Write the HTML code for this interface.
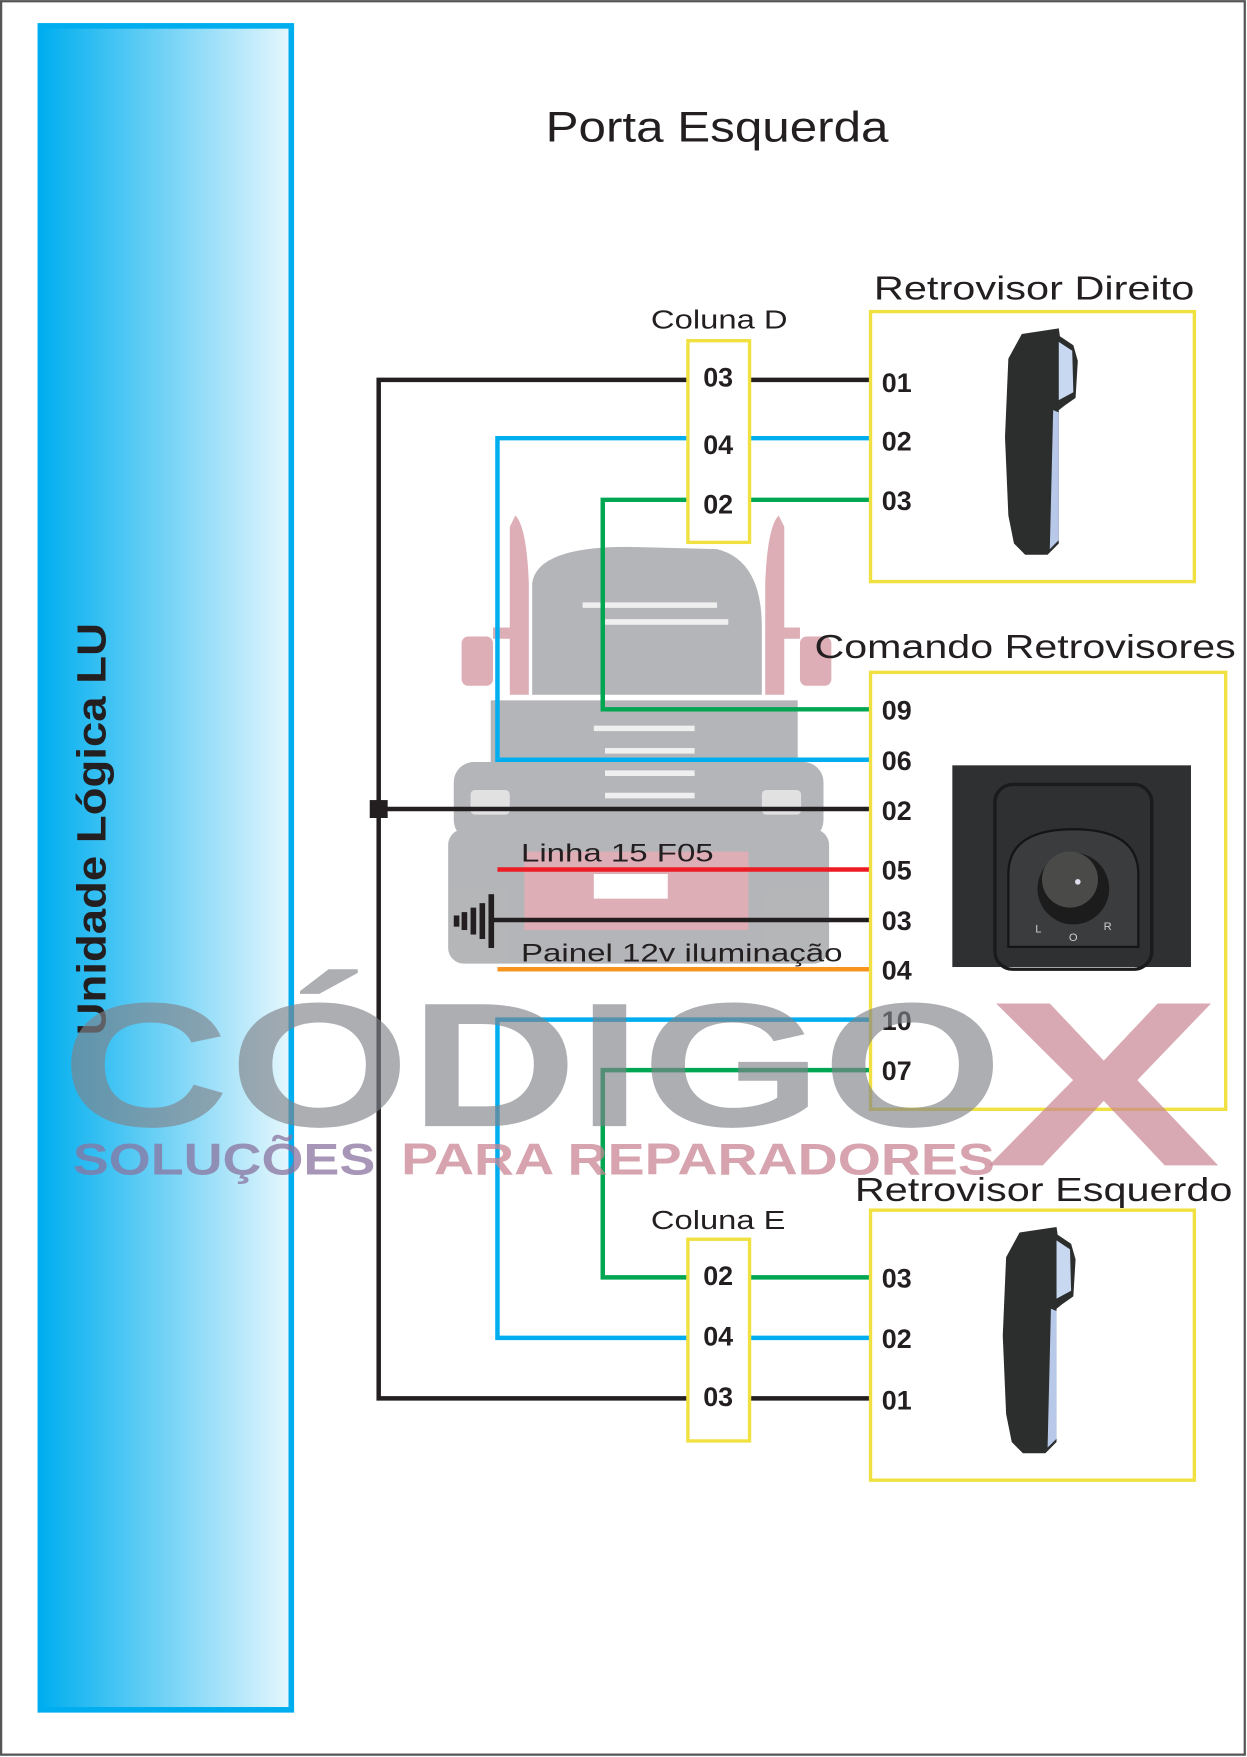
<!DOCTYPE html>
<html><head><meta charset="utf-8"><style>
html,body{margin:0;padding:0;background:#fff}
svg{display:block}
text{font-family:"Liberation Sans",sans-serif}
.pin{font-size:24px;font-weight:bold;fill:#231f20}
.t{fill:#231f20}
</style></head><body>
<svg width="1247" height="1757" viewBox="0 0 1113 1568" xmlns="http://www.w3.org/2000/svg">
<defs>
<linearGradient id="bg" x1="0" x2="1" y1="0" y2="0">
<stop offset="0" stop-color="#00aeef"/><stop offset="1" stop-color="#e6f7fd"/>
</linearGradient>
<g id="mirror">
<path d="M912,298 L945,293 L946,300 L958,308 L962,322 L960,355 L950,362 L945,366 L945,485 L935,495 L915,495 L905,485 L900,460 L897,390 L900,320 Z" fill="#2b2e2c"/>
<path d="M945,305 L957,313 L958,350 L945,357 Z" fill="#c8d8f0"/>
<path d="M940,366 L945,368 L945,482 L937,490 Z" fill="#b8c8e8"/>
</g>
</defs>
<rect x="0" y="0" width="1113" height="1568" fill="#fff"/>
<rect x="1" y="1" width="1110" height="1565" fill="none" stroke="#555" stroke-width="2"/>
<rect x="36" y="23" width="224" height="1503" fill="url(#bg)" stroke="#00aeef" stroke-width="5"/>

<!-- truck watermark -->
<g opacity="0.85">
<path d="M460,460 Q470,470 472,520 L472,620 L455,620 L455,470 Z" fill="#d9a0aa"/>
<path d="M695,460 Q685,470 683,520 L683,620 L700,620 L700,470 Z" fill="#d9a0aa"/>
<rect x="412" y="568" width="28" height="44" rx="6" fill="#d9a0aa"/>
<rect x="714" y="568" width="28" height="44" rx="6" fill="#d9a0aa"/>
<path d="M470,560 L440,560 L440,570 L470,570 Z M685,560 L714,560 L714,570 L685,570Z" fill="#d9a0aa"/>
<path d="M475,520 Q480,488 560,488 L640,490 Q680,500 680,560 L680,620 L475,620 Z" fill="#a7a9ac"/>
<path d="M438,625 L712,625 L712,680 L690,680 L690,720 L460,720 L460,680 L438,680 Z" fill="#a7a9ac"/>
<rect x="405" y="680" width="330" height="70" rx="18" fill="#a7a9ac"/>
<rect x="400" y="740" width="340" height="120" rx="14" fill="#a7a9ac"/>
<rect x="468" y="760" width="200" height="70" fill="#d9a0aa"/>
<rect x="530" y="780" width="66" height="22" fill="#fff"/>
<rect x="420" y="705" width="35" height="22" rx="4" fill="#fff" opacity="0.6"/>
<rect x="680" y="705" width="35" height="22" rx="4" fill="#fff" opacity="0.6"/>
<g stroke="#fff" stroke-width="5" opacity="0.8">
<line x1="520" y1="540" x2="640" y2="540"/><line x1="540" y1="555" x2="650" y2="555"/>
<line x1="530" y1="650" x2="620" y2="650"/><line x1="540" y1="670" x2="620" y2="670"/><line x1="540" y1="690" x2="620" y2="690"/><line x1="540" y1="710" x2="620" y2="710"/>
</g>
</g>

<text x="487" y="126" font-size="38" class="t" textLength="306" lengthAdjust="spacingAndGlyphs">Porta Esquerda</text>

<!-- wires -->
<g fill="none" stroke-width="4">
<polyline points="776,339 338,339 338,1248 776,1248" stroke="#231f20"/>
<line x1="338" y1="722" x2="776" y2="722" stroke="#231f20"/>
<polyline points="776,391 444,391 444,678 776,678" stroke="#00aeef"/>
<polyline points="776,446 538,446 538,633 776,633" stroke="#00a651"/>
<line x1="444" y1="776" x2="776" y2="776" stroke="#ed1c24"/>
<line x1="440" y1="821" x2="776" y2="821" stroke="#231f20"/>
<line x1="444" y1="865" x2="776" y2="865" stroke="#f7941d"/>
<polyline points="776,910 444,910 444,1194 776,1194" stroke="#00aeef"/>
<polyline points="776,955 538,955 538,1140 776,1140" stroke="#00a651"/>
</g>
<rect x="330" y="714" width="16" height="16" fill="#231f20"/>
<!-- ground -->
<g fill="#231f20">
<rect x="436" y="798" width="5" height="48"/>
<rect x="428" y="806" width="5" height="32"/>
<rect x="420" y="810" width="5" height="24"/>
<rect x="412" y="814" width="5" height="16"/>
<rect x="405" y="817" width="5" height="10"/>
</g>
<text x="465" y="769" font-size="22" class="t" textLength="172" lengthAdjust="spacingAndGlyphs">Linha 15 F05</text>
<text x="465" y="858" font-size="22" class="t" textLength="287" lengthAdjust="spacingAndGlyphs">Painel 12v iluminação</text>

<!-- Coluna D -->
<text x="581" y="293" font-size="23" class="t" textLength="122" lengthAdjust="spacingAndGlyphs">Coluna D</text>
<rect x="614" y="304" width="55" height="180" fill="#fff" stroke="#f0e040" stroke-width="3"/>
<text x="641" y="345" text-anchor="middle" class="pin">03</text>
<text x="641" y="405" text-anchor="middle" class="pin">04</text>
<text x="641" y="458" text-anchor="middle" class="pin">02</text>

<!-- Coluna E -->
<text x="581" y="1097" font-size="23" class="t" textLength="120" lengthAdjust="spacingAndGlyphs">Coluna E</text>
<rect x="614" y="1106" width="55" height="180" fill="#fff" stroke="#f0e040" stroke-width="3"/>
<text x="641" y="1147" text-anchor="middle" class="pin">02</text>
<text x="641" y="1201" text-anchor="middle" class="pin">04</text>
<text x="641" y="1255" text-anchor="middle" class="pin">03</text>

<!-- Retrovisor Direito -->
<text x="780" y="267" font-size="30" class="t" textLength="286" lengthAdjust="spacingAndGlyphs">Retrovisor Direito</text>
<rect x="777" y="278" width="289" height="241" fill="none" stroke="#f0e040" stroke-width="3"/>
<text x="787" y="350" class="pin">01</text>
<text x="787" y="402" class="pin">02</text>
<text x="787" y="455" class="pin">03</text>
<use href="#mirror"/>

<!-- Comando -->
<text x="727" y="587" font-size="30" class="t" textLength="376" lengthAdjust="spacingAndGlyphs">Comando Retrovisores</text>
<rect x="777" y="600" width="317" height="390" fill="none" stroke="#f0e040" stroke-width="3"/>
<text x="787" y="642" class="pin">09</text>
<text x="787" y="687" class="pin">06</text>
<text x="787" y="732" class="pin">02</text>
<text x="787" y="785" class="pin">05</text>
<text x="787" y="830" class="pin">03</text>
<text x="787" y="874" class="pin">04</text>
<text x="787" y="919" class="pin">10</text>
<text x="787" y="964" class="pin">07</text>
<rect x="850" y="683" width="213" height="180" fill="#2e3032"/>
<rect x="888" y="700" width="140" height="165" rx="16" fill="none" stroke="#1a1b1c" stroke-width="3"/>
<path d="M900,845 L900,780 Q900,740 958,740 Q1016,740 1016,780 L1016,845 Z" fill="#3a3c3e" stroke="#151515" stroke-width="2"/>
<circle cx="958" cy="793" r="32" fill="#1c1c1c"/>
<circle cx="955" cy="785" r="25" fill="#4a4a48"/>
<circle cx="962" cy="787" r="2.5" fill="#dde"/>
<text x="924" y="832" font-size="10" fill="#ccc">L</text>
<text x="954" y="840" font-size="10" fill="#ccc">O</text>
<text x="985" y="830" font-size="10" fill="#ccc">R</text>

<!-- Retrovisor Esquerdo -->
<text x="763" y="1072" font-size="30" class="t" textLength="337" lengthAdjust="spacingAndGlyphs">Retrovisor Esquerdo</text>
<rect x="777" y="1080" width="289" height="241" fill="none" stroke="#f0e040" stroke-width="3"/>
<text x="787" y="1149" class="pin">03</text>
<text x="787" y="1203" class="pin">02</text>
<text x="787" y="1258" class="pin">01</text>
<use href="#mirror" transform="translate(-2,802)"/>

<text transform="translate(94,740) rotate(-90)" text-anchor="middle" font-size="36" font-weight="bold" class="t" textLength="368" lengthAdjust="spacingAndGlyphs">Unidade Lógica LU</text>

<!-- CODIGO X watermark -->
<text x="55" y="1005" font-size="158" font-weight="bold" fill="#80838a" opacity="0.65" textLength="840" lengthAdjust="spacingAndGlyphs">CÓDIGO</text>
<text x="880" y="1040" font-size="210" font-weight="bold" fill="#c98593" opacity="0.7" textLength="210" lengthAdjust="spacingAndGlyphs">X</text>
<text x="65" y="1048" font-size="40" font-weight="bold" fill="#8a74a0" opacity="0.75" textLength="270" lengthAdjust="spacingAndGlyphs">SOLUÇÕES</text>
<text x="358" y="1048" font-size="40" font-weight="bold" fill="#c98593" opacity="0.75" textLength="530" lengthAdjust="spacingAndGlyphs">PARA REPARADORES</text>
</svg>
</body></html>
